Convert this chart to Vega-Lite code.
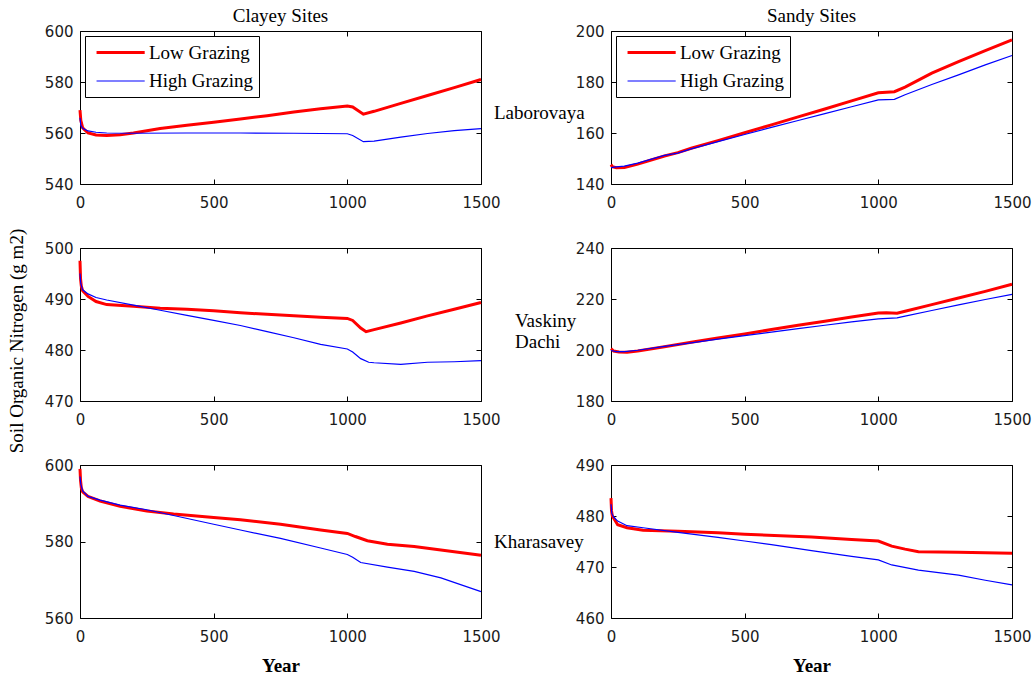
{
  "$schema": "https://vega.github.io/schema/vega-lite/v6.json",
  "background": "white",
  "padding": {"left": 7, "top": 6, "right": 10, "bottom": 6},
  "title": {"text": "Soil Organic Nitrogen (g m2)", "orient": "left", "anchor": "middle", "font": "Liberation Serif", "fontSize": 19, "fontWeight": "normal", "offset": 17, "color": "black"},
  "data": {"values": [
    {"site":"L","soil":"C","g":"Low Grazing","year":0,"n":569},{"site":"L","soil":"C","g":"Low Grazing","year":3,"n":565},{"site":"L","soil":"C","g":"Low Grazing","year":10,"n":562},{"site":"L","soil":"C","g":"Low Grazing","year":30,"n":560},{"site":"L","soil":"C","g":"Low Grazing","year":60,"n":559.2},{"site":"L","soil":"C","g":"Low Grazing","year":100,"n":559},{"site":"L","soil":"C","g":"Low Grazing","year":150,"n":559.3},{"site":"L","soil":"C","g":"Low Grazing","year":200,"n":560},{"site":"L","soil":"C","g":"Low Grazing","year":300,"n":561.8},{"site":"L","soil":"C","g":"Low Grazing","year":400,"n":563},{"site":"L","soil":"C","g":"Low Grazing","year":500,"n":564.2},{"site":"L","soil":"C","g":"Low Grazing","year":600,"n":565.5},{"site":"L","soil":"C","g":"Low Grazing","year":700,"n":566.8},{"site":"L","soil":"C","g":"Low Grazing","year":800,"n":568.2},{"site":"L","soil":"C","g":"Low Grazing","year":900,"n":569.5},{"site":"L","soil":"C","g":"Low Grazing","year":1000,"n":570.6},{"site":"L","soil":"C","g":"Low Grazing","year":1020,"n":570.2},{"site":"L","soil":"C","g":"Low Grazing","year":1060,"n":567.4},{"site":"L","soil":"C","g":"Low Grazing","year":1100,"n":568.5},{"site":"L","soil":"C","g":"Low Grazing","year":1200,"n":571.6},{"site":"L","soil":"C","g":"Low Grazing","year":1300,"n":574.7},{"site":"L","soil":"C","g":"Low Grazing","year":1400,"n":577.8},{"site":"L","soil":"C","g":"Low Grazing","year":1500,"n":581},
    {"site":"L","soil":"C","g":"High Grazing","year":0,"n":566},{"site":"L","soil":"C","g":"High Grazing","year":3,"n":563},{"site":"L","soil":"C","g":"High Grazing","year":10,"n":561.8},{"site":"L","soil":"C","g":"High Grazing","year":30,"n":560.8},{"site":"L","soil":"C","g":"High Grazing","year":60,"n":560.3},{"site":"L","soil":"C","g":"High Grazing","year":100,"n":560},{"site":"L","soil":"C","g":"High Grazing","year":200,"n":559.9},{"site":"L","soil":"C","g":"High Grazing","year":400,"n":560},{"site":"L","soil":"C","g":"High Grazing","year":600,"n":560},{"site":"L","soil":"C","g":"High Grazing","year":800,"n":559.9},{"site":"L","soil":"C","g":"High Grazing","year":1000,"n":559.7},{"site":"L","soil":"C","g":"High Grazing","year":1020,"n":559},{"site":"L","soil":"C","g":"High Grazing","year":1060,"n":556.6},{"site":"L","soil":"C","g":"High Grazing","year":1100,"n":556.8},{"site":"L","soil":"C","g":"High Grazing","year":1200,"n":558.4},{"site":"L","soil":"C","g":"High Grazing","year":1300,"n":559.8},{"site":"L","soil":"C","g":"High Grazing","year":1400,"n":560.9},{"site":"L","soil":"C","g":"High Grazing","year":1500,"n":561.7},
    {"site":"L","soil":"S","g":"Low Grazing","year":0,"n":147.6},{"site":"L","soil":"S","g":"Low Grazing","year":5,"n":146.8},{"site":"L","soil":"S","g":"Low Grazing","year":20,"n":146.4},{"site":"L","soil":"S","g":"Low Grazing","year":50,"n":146.5},{"site":"L","soil":"S","g":"Low Grazing","year":100,"n":147.8},{"site":"L","soil":"S","g":"Low Grazing","year":150,"n":149.4},{"site":"L","soil":"S","g":"Low Grazing","year":200,"n":151},{"site":"L","soil":"S","g":"Low Grazing","year":250,"n":152.3},{"site":"L","soil":"S","g":"Low Grazing","year":300,"n":154},{"site":"L","soil":"S","g":"Low Grazing","year":400,"n":157},{"site":"L","soil":"S","g":"Low Grazing","year":500,"n":160.1},{"site":"L","soil":"S","g":"Low Grazing","year":600,"n":163.2},{"site":"L","soil":"S","g":"Low Grazing","year":700,"n":166.3},{"site":"L","soil":"S","g":"Low Grazing","year":800,"n":169.4},{"site":"L","soil":"S","g":"Low Grazing","year":900,"n":172.6},{"site":"L","soil":"S","g":"Low Grazing","year":1000,"n":175.8},{"site":"L","soil":"S","g":"Low Grazing","year":1060,"n":176.2},{"site":"L","soil":"S","g":"Low Grazing","year":1100,"n":178},{"site":"L","soil":"S","g":"Low Grazing","year":1200,"n":183.5},{"site":"L","soil":"S","g":"Low Grazing","year":1300,"n":188},{"site":"L","soil":"S","g":"Low Grazing","year":1400,"n":192.3},{"site":"L","soil":"S","g":"Low Grazing","year":1500,"n":196.5},
    {"site":"L","soil":"S","g":"High Grazing","year":0,"n":146.4},{"site":"L","soil":"S","g":"High Grazing","year":20,"n":146.7},{"site":"L","soil":"S","g":"High Grazing","year":50,"n":147},{"site":"L","soil":"S","g":"High Grazing","year":100,"n":148.2},{"site":"L","soil":"S","g":"High Grazing","year":200,"n":151.2},{"site":"L","soil":"S","g":"High Grazing","year":250,"n":152.1},{"site":"L","soil":"S","g":"High Grazing","year":300,"n":153.8},{"site":"L","soil":"S","g":"High Grazing","year":400,"n":156.6},{"site":"L","soil":"S","g":"High Grazing","year":500,"n":159.4},{"site":"L","soil":"S","g":"High Grazing","year":600,"n":162.2},{"site":"L","soil":"S","g":"High Grazing","year":700,"n":164.9},{"site":"L","soil":"S","g":"High Grazing","year":800,"n":167.6},{"site":"L","soil":"S","g":"High Grazing","year":900,"n":170.3},{"site":"L","soil":"S","g":"High Grazing","year":1000,"n":173},{"site":"L","soil":"S","g":"High Grazing","year":1060,"n":173.2},{"site":"L","soil":"S","g":"High Grazing","year":1100,"n":175},{"site":"L","soil":"S","g":"High Grazing","year":1200,"n":179},{"site":"L","soil":"S","g":"High Grazing","year":1300,"n":182.8},{"site":"L","soil":"S","g":"High Grazing","year":1400,"n":186.7},{"site":"L","soil":"S","g":"High Grazing","year":1500,"n":190.4},
    {"site":"V","soil":"C","g":"Low Grazing","year":0,"n":497.5},{"site":"V","soil":"C","g":"Low Grazing","year":2,"n":494},{"site":"V","soil":"C","g":"Low Grazing","year":5,"n":492.5},{"site":"V","soil":"C","g":"Low Grazing","year":10,"n":491.6},{"site":"V","soil":"C","g":"Low Grazing","year":30,"n":490.5},{"site":"V","soil":"C","g":"Low Grazing","year":60,"n":489.5},{"site":"V","soil":"C","g":"Low Grazing","year":100,"n":488.9},{"site":"V","soil":"C","g":"Low Grazing","year":200,"n":488.6},{"site":"V","soil":"C","g":"Low Grazing","year":300,"n":488.2},{"site":"V","soil":"C","g":"Low Grazing","year":400,"n":488},{"site":"V","soil":"C","g":"Low Grazing","year":500,"n":487.7},{"site":"V","soil":"C","g":"Low Grazing","year":600,"n":487.3},{"site":"V","soil":"C","g":"Low Grazing","year":700,"n":487},{"site":"V","soil":"C","g":"Low Grazing","year":800,"n":486.7},{"site":"V","soil":"C","g":"Low Grazing","year":900,"n":486.4},{"site":"V","soil":"C","g":"Low Grazing","year":1000,"n":486.2},{"site":"V","soil":"C","g":"Low Grazing","year":1020,"n":485.8},{"site":"V","soil":"C","g":"Low Grazing","year":1050,"n":484.3},{"site":"V","soil":"C","g":"Low Grazing","year":1070,"n":483.6},{"site":"V","soil":"C","g":"Low Grazing","year":1100,"n":484},{"site":"V","soil":"C","g":"Low Grazing","year":1200,"n":485.3},{"site":"V","soil":"C","g":"Low Grazing","year":1300,"n":486.7},{"site":"V","soil":"C","g":"Low Grazing","year":1400,"n":488},{"site":"V","soil":"C","g":"Low Grazing","year":1500,"n":489.3},
    {"site":"V","soil":"C","g":"High Grazing","year":0,"n":495},{"site":"V","soil":"C","g":"High Grazing","year":3,"n":493},{"site":"V","soil":"C","g":"High Grazing","year":10,"n":491.8},{"site":"V","soil":"C","g":"High Grazing","year":30,"n":491},{"site":"V","soil":"C","g":"High Grazing","year":60,"n":490.3},{"site":"V","soil":"C","g":"High Grazing","year":100,"n":489.8},{"site":"V","soil":"C","g":"High Grazing","year":200,"n":488.8},{"site":"V","soil":"C","g":"High Grazing","year":300,"n":487.8},{"site":"V","soil":"C","g":"High Grazing","year":400,"n":486.8},{"site":"V","soil":"C","g":"High Grazing","year":500,"n":485.8},{"site":"V","soil":"C","g":"High Grazing","year":600,"n":484.8},{"site":"V","soil":"C","g":"High Grazing","year":700,"n":483.6},{"site":"V","soil":"C","g":"High Grazing","year":800,"n":482.4},{"site":"V","soil":"C","g":"High Grazing","year":900,"n":481.1},{"site":"V","soil":"C","g":"High Grazing","year":1000,"n":480.2},{"site":"V","soil":"C","g":"High Grazing","year":1020,"n":479.6},{"site":"V","soil":"C","g":"High Grazing","year":1050,"n":478.3},{"site":"V","soil":"C","g":"High Grazing","year":1080,"n":477.6},{"site":"V","soil":"C","g":"High Grazing","year":1100,"n":477.5},{"site":"V","soil":"C","g":"High Grazing","year":1200,"n":477.2},{"site":"V","soil":"C","g":"High Grazing","year":1300,"n":477.6},{"site":"V","soil":"C","g":"High Grazing","year":1400,"n":477.7},{"site":"V","soil":"C","g":"High Grazing","year":1500,"n":477.9},
    {"site":"V","soil":"S","g":"Low Grazing","year":0,"n":200.5},{"site":"V","soil":"S","g":"Low Grazing","year":10,"n":199.6},{"site":"V","soil":"S","g":"Low Grazing","year":30,"n":199.2},{"site":"V","soil":"S","g":"Low Grazing","year":60,"n":199.1},{"site":"V","soil":"S","g":"Low Grazing","year":100,"n":199.6},{"site":"V","soil":"S","g":"Low Grazing","year":200,"n":201.3},{"site":"V","soil":"S","g":"Low Grazing","year":300,"n":203},{"site":"V","soil":"S","g":"Low Grazing","year":400,"n":204.7},{"site":"V","soil":"S","g":"Low Grazing","year":500,"n":206.3},{"site":"V","soil":"S","g":"Low Grazing","year":600,"n":208},{"site":"V","soil":"S","g":"Low Grazing","year":700,"n":209.7},{"site":"V","soil":"S","g":"Low Grazing","year":800,"n":211.3},{"site":"V","soil":"S","g":"Low Grazing","year":900,"n":212.9},{"site":"V","soil":"S","g":"Low Grazing","year":1000,"n":214.5},{"site":"V","soil":"S","g":"Low Grazing","year":1030,"n":214.6},{"site":"V","soil":"S","g":"Low Grazing","year":1070,"n":214.4},{"site":"V","soil":"S","g":"Low Grazing","year":1100,"n":215.2},{"site":"V","soil":"S","g":"Low Grazing","year":1200,"n":217.8},{"site":"V","soil":"S","g":"Low Grazing","year":1300,"n":220.4},{"site":"V","soil":"S","g":"Low Grazing","year":1400,"n":223},{"site":"V","soil":"S","g":"Low Grazing","year":1500,"n":225.8},
    {"site":"V","soil":"S","g":"High Grazing","year":0,"n":199.8},{"site":"V","soil":"S","g":"High Grazing","year":20,"n":199.4},{"site":"V","soil":"S","g":"High Grazing","year":50,"n":199.4},{"site":"V","soil":"S","g":"High Grazing","year":100,"n":199.9},{"site":"V","soil":"S","g":"High Grazing","year":200,"n":201.4},{"site":"V","soil":"S","g":"High Grazing","year":300,"n":202.8},{"site":"V","soil":"S","g":"High Grazing","year":400,"n":204.3},{"site":"V","soil":"S","g":"High Grazing","year":500,"n":205.6},{"site":"V","soil":"S","g":"High Grazing","year":600,"n":207},{"site":"V","soil":"S","g":"High Grazing","year":700,"n":208.4},{"site":"V","soil":"S","g":"High Grazing","year":800,"n":209.7},{"site":"V","soil":"S","g":"High Grazing","year":900,"n":211},{"site":"V","soil":"S","g":"High Grazing","year":1000,"n":212.2},{"site":"V","soil":"S","g":"High Grazing","year":1070,"n":212.6},{"site":"V","soil":"S","g":"High Grazing","year":1100,"n":213.3},{"site":"V","soil":"S","g":"High Grazing","year":1200,"n":215.5},{"site":"V","soil":"S","g":"High Grazing","year":1300,"n":217.7},{"site":"V","soil":"S","g":"High Grazing","year":1400,"n":219.8},{"site":"V","soil":"S","g":"High Grazing","year":1500,"n":221.8},
    {"site":"K","soil":"C","g":"Low Grazing","year":0,"n":599},{"site":"K","soil":"C","g":"Low Grazing","year":2,"n":596},{"site":"K","soil":"C","g":"Low Grazing","year":5,"n":594},{"site":"K","soil":"C","g":"Low Grazing","year":10,"n":593},{"site":"K","soil":"C","g":"Low Grazing","year":30,"n":591.8},{"site":"K","soil":"C","g":"Low Grazing","year":75,"n":590.6},{"site":"K","soil":"C","g":"Low Grazing","year":150,"n":589.2},{"site":"K","soil":"C","g":"Low Grazing","year":250,"n":588},{"site":"K","soil":"C","g":"Low Grazing","year":350,"n":587.2},{"site":"K","soil":"C","g":"Low Grazing","year":500,"n":586.3},{"site":"K","soil":"C","g":"Low Grazing","year":600,"n":585.7},{"site":"K","soil":"C","g":"Low Grazing","year":750,"n":584.5},{"site":"K","soil":"C","g":"Low Grazing","year":900,"n":583},{"site":"K","soil":"C","g":"Low Grazing","year":1000,"n":582.1},{"site":"K","soil":"C","g":"Low Grazing","year":1030,"n":581.3},{"site":"K","soil":"C","g":"Low Grazing","year":1075,"n":580.2},{"site":"K","soil":"C","g":"Low Grazing","year":1150,"n":579.3},{"site":"K","soil":"C","g":"Low Grazing","year":1250,"n":578.7},{"site":"K","soil":"C","g":"Low Grazing","year":1350,"n":577.8},{"site":"K","soil":"C","g":"Low Grazing","year":1500,"n":576.4},
    {"site":"K","soil":"C","g":"High Grazing","year":0,"n":597},{"site":"K","soil":"C","g":"High Grazing","year":3,"n":595},{"site":"K","soil":"C","g":"High Grazing","year":10,"n":593.2},{"site":"K","soil":"C","g":"High Grazing","year":30,"n":591.8},{"site":"K","soil":"C","g":"High Grazing","year":75,"n":590.8},{"site":"K","soil":"C","g":"High Grazing","year":150,"n":589.5},{"site":"K","soil":"C","g":"High Grazing","year":250,"n":588.3},{"site":"K","soil":"C","g":"High Grazing","year":350,"n":586.8},{"site":"K","soil":"C","g":"High Grazing","year":500,"n":584.5},{"site":"K","soil":"C","g":"High Grazing","year":600,"n":583},{"site":"K","soil":"C","g":"High Grazing","year":750,"n":580.8},{"site":"K","soil":"C","g":"High Grazing","year":900,"n":578.3},{"site":"K","soil":"C","g":"High Grazing","year":1000,"n":576.6},{"site":"K","soil":"C","g":"High Grazing","year":1020,"n":575.9},{"site":"K","soil":"C","g":"High Grazing","year":1050,"n":574.5},{"site":"K","soil":"C","g":"High Grazing","year":1150,"n":573.3},{"site":"K","soil":"C","g":"High Grazing","year":1250,"n":572.2},{"site":"K","soil":"C","g":"High Grazing","year":1350,"n":570.5},{"site":"K","soil":"C","g":"High Grazing","year":1500,"n":566.9},
    {"site":"K","soil":"S","g":"Low Grazing","year":0,"n":483.5},{"site":"K","soil":"S","g":"Low Grazing","year":2,"n":481},{"site":"K","soil":"S","g":"Low Grazing","year":5,"n":480},{"site":"K","soil":"S","g":"Low Grazing","year":25,"n":478.3},{"site":"K","soil":"S","g":"Low Grazing","year":60,"n":477.7},{"site":"K","soil":"S","g":"Low Grazing","year":120,"n":477.2},{"site":"K","soil":"S","g":"Low Grazing","year":250,"n":477},{"site":"K","soil":"S","g":"Low Grazing","year":400,"n":476.7},{"site":"K","soil":"S","g":"Low Grazing","year":500,"n":476.4},{"site":"K","soil":"S","g":"Low Grazing","year":750,"n":475.9},{"site":"K","soil":"S","g":"Low Grazing","year":900,"n":475.4},{"site":"K","soil":"S","g":"Low Grazing","year":1000,"n":475.1},{"site":"K","soil":"S","g":"Low Grazing","year":1050,"n":474.1},{"site":"K","soil":"S","g":"Low Grazing","year":1100,"n":473.5},{"site":"K","soil":"S","g":"Low Grazing","year":1150,"n":473},{"site":"K","soil":"S","g":"Low Grazing","year":1300,"n":472.9},{"site":"K","soil":"S","g":"Low Grazing","year":1500,"n":472.7},
    {"site":"K","soil":"S","g":"High Grazing","year":0,"n":482.3},{"site":"K","soil":"S","g":"High Grazing","year":3,"n":480.5},{"site":"K","soil":"S","g":"High Grazing","year":10,"n":479.8},{"site":"K","soil":"S","g":"High Grazing","year":25,"n":479},{"site":"K","soil":"S","g":"High Grazing","year":60,"n":478.1},{"site":"K","soil":"S","g":"High Grazing","year":120,"n":477.7},{"site":"K","soil":"S","g":"High Grazing","year":250,"n":476.8},{"site":"K","soil":"S","g":"High Grazing","year":400,"n":475.8},{"site":"K","soil":"S","g":"High Grazing","year":500,"n":475.1},{"site":"K","soil":"S","g":"High Grazing","year":600,"n":474.4},{"site":"K","soil":"S","g":"High Grazing","year":750,"n":473.2},{"site":"K","soil":"S","g":"High Grazing","year":900,"n":472.1},{"site":"K","soil":"S","g":"High Grazing","year":1000,"n":471.4},{"site":"K","soil":"S","g":"High Grazing","year":1050,"n":470.4},{"site":"K","soil":"S","g":"High Grazing","year":1150,"n":469.4},{"site":"K","soil":"S","g":"High Grazing","year":1300,"n":468.4},{"site":"K","soil":"S","g":"High Grazing","year":1400,"n":467.4},{"site":"K","soil":"S","g":"High Grazing","year":1500,"n":466.5}
  ]},
  "columns": 2,
  "spacing": {"row": 64, "column": 130},
  "bounds": "flush",
  "resolve": {"scale": {"x": "independent", "y": "independent", "color": "independent", "strokeWidth": "independent"}, "legend": {"color": "independent", "strokeWidth": "independent"}},
  "concat": [
    {
      "width": 401, "height": 153,
      "title": {"text": "Clayey Sites"},
      "transform": [{"filter": "datum.site == 'L' && datum.soil == 'C'"}],
      "layer": [
        {"mark": {"type": "line"},
         "encoding": {
           "x": {"field": "year", "type": "quantitative", "scale": {"domain": [0, 1500], "nice": false}, "axis": {"orient": "bottom", "values": [0, 500, 1000, 1500], "format": "d", "title": null}},
           "y": {"field": "n", "type": "quantitative", "scale": {"domain": [540, 600], "nice": false, "zero": false}, "axis": {"orient": "left", "values": [540, 560, 580, 600], "title": null}},
           "color": {"field": "g", "type": "nominal", "sort": null, "scale": {"domain": ["Low Grazing", "High Grazing"], "range": ["#ff0000", "#0000ff"]}, "legend": {"title": null, "orient": "top-left"}},
           "strokeWidth": {"field": "g", "type": "nominal", "sort": null, "scale": {"domain": ["Low Grazing", "High Grazing"], "range": [3, 1.2]}, "legend": {"title": null, "orient": "top-left"}}
         }},
        {"mark": {"type": "line", "opacity": 0},
         "encoding": {
           "x": {"field": "year", "type": "quantitative", "axis": {"orient": "top", "values": [0, 500, 1000, 1500], "labels": false, "title": null}},
           "y": {"field": "n", "type": "quantitative", "axis": {"orient": "right", "values": [540, 560, 580, 600], "labels": false, "title": "Laborovaya", "titleY": 81}},
           "detail": {"field": "g"}
         }}
      ],
      "resolve": {"axis": {"x": "independent", "y": "independent"}}
    },
    {
      "width": 401, "height": 153,
      "title": {"text": "Sandy Sites"},
      "transform": [{"filter": "datum.site == 'L' && datum.soil == 'S'"}],
      "layer": [
        {"mark": {"type": "line"},
         "encoding": {
           "x": {"field": "year", "type": "quantitative", "scale": {"domain": [0, 1500], "nice": false}, "axis": {"orient": "bottom", "values": [0, 500, 1000, 1500], "format": "d", "title": null}},
           "y": {"field": "n", "type": "quantitative", "scale": {"domain": [140, 200], "nice": false, "zero": false}, "axis": {"orient": "left", "values": [140, 160, 180, 200], "title": null}},
           "color": {"field": "g", "type": "nominal", "sort": null, "scale": {"domain": ["Low Grazing", "High Grazing"], "range": ["#ff0000", "#0000ff"]}, "legend": {"title": null, "orient": "top-left"}},
           "strokeWidth": {"field": "g", "type": "nominal", "sort": null, "scale": {"domain": ["Low Grazing", "High Grazing"], "range": [3, 1.2]}, "legend": {"title": null, "orient": "top-left"}}
         }},
        {"mark": {"type": "line", "opacity": 0},
         "encoding": {
           "x": {"field": "year", "type": "quantitative", "axis": {"orient": "top", "values": [0, 500, 1000, 1500], "labels": false, "title": null}},
           "y": {"field": "n", "type": "quantitative", "axis": {"orient": "right", "values": [140, 160, 180, 200], "labels": false, "title": null}},
           "detail": {"field": "g"}
         }}
      ],
      "resolve": {"axis": {"x": "independent", "y": "independent"}}
    },
    {
      "width": 401, "height": 153,
      "transform": [{"filter": "datum.site == 'V' && datum.soil == 'C'"}],
      "layer": [
        {"mark": {"type": "line"},
         "encoding": {
           "x": {"field": "year", "type": "quantitative", "scale": {"domain": [0, 1500], "nice": false}, "axis": {"orient": "bottom", "values": [0, 500, 1000, 1500], "format": "d", "title": null}},
           "y": {"field": "n", "type": "quantitative", "scale": {"domain": [470, 500], "nice": false, "zero": false}, "axis": {"orient": "left", "values": [470, 480, 490, 500], "title": null}},
           "color": {"field": "g", "type": "nominal", "sort": null, "scale": {"domain": ["Low Grazing", "High Grazing"], "range": ["#ff0000", "#0000ff"]}, "legend": null},
           "strokeWidth": {"field": "g", "type": "nominal", "sort": null, "scale": {"domain": ["Low Grazing", "High Grazing"], "range": [3, 1.2]}, "legend": null}
         }},
        {"mark": {"type": "line", "opacity": 0},
         "encoding": {
           "x": {"field": "year", "type": "quantitative", "axis": {"orient": "top", "values": [0, 500, 1000, 1500], "labels": false, "title": null}},
           "y": {"field": "n", "type": "quantitative", "axis": {"orient": "right", "values": [470, 480, 490, 500], "labels": false, "title": ["Vaskiny", "Dachi"], "titleY": 72}},
           "detail": {"field": "g"}
         }}
      ],
      "resolve": {"axis": {"x": "independent", "y": "independent"}}
    },
    {
      "width": 401, "height": 153,
      "transform": [{"filter": "datum.site == 'V' && datum.soil == 'S'"}],
      "layer": [
        {"mark": {"type": "line"},
         "encoding": {
           "x": {"field": "year", "type": "quantitative", "scale": {"domain": [0, 1500], "nice": false}, "axis": {"orient": "bottom", "values": [0, 500, 1000, 1500], "format": "d", "title": null}},
           "y": {"field": "n", "type": "quantitative", "scale": {"domain": [180, 240], "nice": false, "zero": false}, "axis": {"orient": "left", "values": [180, 200, 220, 240], "title": null}},
           "color": {"field": "g", "type": "nominal", "sort": null, "scale": {"domain": ["Low Grazing", "High Grazing"], "range": ["#ff0000", "#0000ff"]}, "legend": null},
           "strokeWidth": {"field": "g", "type": "nominal", "sort": null, "scale": {"domain": ["Low Grazing", "High Grazing"], "range": [3, 1.2]}, "legend": null}
         }},
        {"mark": {"type": "line", "opacity": 0},
         "encoding": {
           "x": {"field": "year", "type": "quantitative", "axis": {"orient": "top", "values": [0, 500, 1000, 1500], "labels": false, "title": null}},
           "y": {"field": "n", "type": "quantitative", "axis": {"orient": "right", "values": [180, 200, 220, 240], "labels": false, "title": null}},
           "detail": {"field": "g"}
         }}
      ],
      "resolve": {"axis": {"x": "independent", "y": "independent"}}
    },
    {
      "width": 401, "height": 153,
      "transform": [{"filter": "datum.site == 'K' && datum.soil == 'C'"}],
      "layer": [
        {"mark": {"type": "line"},
         "encoding": {
           "x": {"field": "year", "type": "quantitative", "scale": {"domain": [0, 1500], "nice": false}, "axis": {"orient": "bottom", "values": [0, 500, 1000, 1500], "format": "d", "title": "Year"}},
           "y": {"field": "n", "type": "quantitative", "scale": {"domain": [560, 600], "nice": false, "zero": false}, "axis": {"orient": "left", "values": [560, 580, 600], "title": null}},
           "color": {"field": "g", "type": "nominal", "sort": null, "scale": {"domain": ["Low Grazing", "High Grazing"], "range": ["#ff0000", "#0000ff"]}, "legend": null},
           "strokeWidth": {"field": "g", "type": "nominal", "sort": null, "scale": {"domain": ["Low Grazing", "High Grazing"], "range": [3, 1.2]}, "legend": null}
         }},
        {"mark": {"type": "line", "opacity": 0},
         "encoding": {
           "x": {"field": "year", "type": "quantitative", "axis": {"orient": "top", "values": [0, 500, 1000, 1500], "labels": false, "title": null}},
           "y": {"field": "n", "type": "quantitative", "axis": {"orient": "right", "values": [560, 580, 600], "labels": false, "title": "Kharasavey", "titleY": 76}},
           "detail": {"field": "g"}
         }}
      ],
      "resolve": {"axis": {"x": "independent", "y": "independent"}}
    },
    {
      "width": 401, "height": 153,
      "transform": [{"filter": "datum.site == 'K' && datum.soil == 'S'"}],
      "layer": [
        {"mark": {"type": "line"},
         "encoding": {
           "x": {"field": "year", "type": "quantitative", "scale": {"domain": [0, 1500], "nice": false}, "axis": {"orient": "bottom", "values": [0, 500, 1000, 1500], "format": "d", "title": "Year"}},
           "y": {"field": "n", "type": "quantitative", "scale": {"domain": [460, 490], "nice": false, "zero": false}, "axis": {"orient": "left", "values": [460, 470, 480, 490], "title": null}},
           "color": {"field": "g", "type": "nominal", "sort": null, "scale": {"domain": ["Low Grazing", "High Grazing"], "range": ["#ff0000", "#0000ff"]}, "legend": null},
           "strokeWidth": {"field": "g", "type": "nominal", "sort": null, "scale": {"domain": ["Low Grazing", "High Grazing"], "range": [3, 1.2]}, "legend": null}
         }},
        {"mark": {"type": "line", "opacity": 0},
         "encoding": {
           "x": {"field": "year", "type": "quantitative", "axis": {"orient": "top", "values": [0, 500, 1000, 1500], "labels": false, "title": null}},
           "y": {"field": "n", "type": "quantitative", "axis": {"orient": "right", "values": [460, 470, 480, 490], "labels": false, "title": null}},
           "detail": {"field": "g"}
         }}
      ],
      "resolve": {"axis": {"x": "independent", "y": "independent"}}
    }
  ],
  "config": {
    "view": {"stroke": "black", "strokeWidth": 1},
    "axis": {"grid": false, "domain": false, "tickSize": -5, "tickColor": "black", "tickWidth": 1, "labelFont": "DejaVu Sans", "labelFontSize": 15, "labelColor": "#1a1a1a", "labelFlush": false, "labelOverlap": false, "titleFont": "Liberation Serif", "titleColor": "black", "titleFontWeight": "normal", "titleFontSize": 19},
    "axisBottom": {"labelPadding": 16, "titleFontWeight": "bold", "titlePadding": 12},
    "axisLeft": {"labelPadding": 12},
    "axisRight": {"titleAngle": 0, "titleAlign": "left", "titleBaseline": "middle", "titlePadding": 12, "titleLineHeight": 21},
    "title": {"font": "Liberation Serif", "fontSize": 19, "fontWeight": "normal", "color": "black", "offset": -2},
    "legend": {"symbolType": "M-0.55,0H4.8", "symbolSize": 324, "labelFont": "Liberation Serif", "labelFontSize": 19, "labelColor": "black", "labelOffset": 37, "strokeColor": "black", "fillColor": "white", "padding": 6, "rowPadding": 8, "offset": 5, "cornerRadius": 0}
  }
}
